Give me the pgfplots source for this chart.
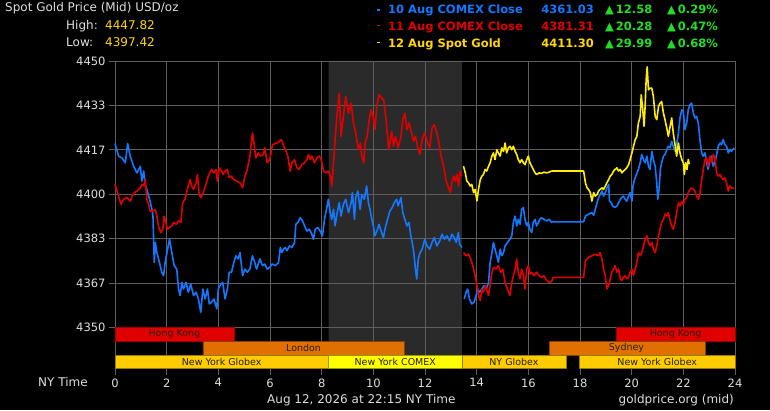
\documentclass[border=0pt]{standalone}
\usepackage{fontspec}
\setmainfont{DejaVu Sans}
\usepackage{pgfplots}
\pgfplotsset{compat=1.18}
\definecolor{cblue}{HTML}{1478FF}
\definecolor{cred}{HTML}{E00000}
\definecolor{cyel}{HTML}{FFEE00}
\definecolor{tyel}{HTML}{FFD700}
\definecolor{cgreen}{HTML}{22DD22}
\definecolor{lgray}{HTML}{DDDDDD}
\definecolor{gridgray}{HTML}{5E5E5E}
\definecolor{shade}{HTML}{2A2A2A}
\definecolor{hkred}{HTML}{E00000}
\definecolor{lonor}{HTML}{E07000}
\definecolor{nygold}{HTML}{FFCC00}
\definecolor{nyyel}{HTML}{FFFF00}
\definecolor{bartext}{HTML}{2A2000}
\begin{document}
\begin{tikzpicture}
\begin{axis}[
  at={(115pt,41pt)}, anchor=south west, scale only axis,
  width=620pt, height=308pt,
  xmin=0, xmax=24, ymin=4334.4, ymax=4450,
  set layers, clip=false,
  separate axis lines, axis line style={draw=none},
  xtick={0,2,...,24}, xticklabels={0,2,4,6,8,10,12,14,16,18,20,22,24},
  ytick={4350,4366.667,4383.333,4400,4416.667,4433.333,4450},
  yticklabels={4350,4367,4383,4400,4417,4433,4450},
  tick pos=left, tick align=outside, major tick length=6pt,
  tick style={draw=gridgray, line width=0.8pt},
  grid=major, major grid style={draw=gridgray, line width=0.8pt},
  tick label style={font=\fontsize{11.5}{13}\selectfont, text=lgray},
  line join=round,
]
% page background
\addplot[fill=black, draw=none, on layer=axis background] coordinates {(-4.4516,4319.02) (25.3548,4319.02) (25.3548,4472.89) (-4.4516,4472.89) (-4.4516,4319.02)};
% shaded COMEX session
\addplot[fill=shade, draw=none, on layer=axis background] coordinates {(8.27,4339.6) (13.43,4339.6) (13.43,4450) (8.27,4450) (8.27,4339.6)};
% session bars
\addplot[fill=hkred, draw=hkred!70!black, line width=0.6pt] coordinates {(0,4344.8) (4.6,4344.8) (4.6,4350) (0,4350) (0,4344.8)};
\addplot[fill=hkred, draw=hkred!70!black, line width=0.6pt] coordinates {(19.4,4344.8) (24,4344.8) (24,4350) (19.4,4350) (19.4,4344.8)};
\addplot[fill=lonor, draw=lonor!60!black, line width=0.6pt] coordinates {(3.4,4339.6) (11.2,4339.6) (11.2,4344.8) (3.4,4344.8) (3.4,4339.6)};
\addplot[fill=lonor, draw=lonor!60!black, line width=0.6pt] coordinates {(16.8,4339.6) (22.85,4339.6) (22.85,4344.8) (16.8,4344.8) (16.8,4339.6)};
\addplot[fill=nygold, draw=nygold!60!black, line width=0.6pt] coordinates {(0,4334.5) (8.27,4334.5) (8.27,4339.6) (0,4339.6) (0,4334.5)};
\addplot[fill=nyyel, draw=nyyel!60!black, line width=0.6pt] coordinates {(8.27,4334.5) (13.43,4334.5) (13.43,4339.6) (8.27,4339.6) (8.27,4334.5)};
\addplot[fill=nygold, draw=nygold!60!black, line width=0.6pt] coordinates {(13.43,4334.5) (17.45,4334.5) (17.45,4339.6) (13.43,4339.6) (13.43,4334.5)};
\addplot[fill=nygold, draw=nygold!60!black, line width=0.6pt] coordinates {(17.98,4334.5) (24,4334.5) (24,4339.6) (17.98,4339.6) (17.98,4334.5)};
\begin{scope}[every node/.style={font=\fontsize{9.5}{11}\selectfont, text=bartext}]
\node at (axis cs:2.3,4347.4) {Hong Kong};
\node at (axis cs:21.7,4347.4) {Hong Kong};
\node at (axis cs:7.3,4342.2) {London};
\node at (axis cs:19.8,4342.2) {Sydney};
\node at (axis cs:4.13,4337.05) {New York Globex};
\node at (axis cs:10.85,4337.05) {New York COMEX};
\node at (axis cs:15.44,4337.05) {NY Globex};
\node at (axis cs:20.99,4337.05) {New York Globex};
\end{scope}
% 10 Aug COMEX Close (blue)
\addplot[cblue, line width=1.6pt] coordinates {
(0.00,4419.0)(0.14,4414.3)(0.27,4413.6)(0.40,4411.8)(0.49,4419.0)(0.59,4414.3)(0.72,4410.5)(0.85,4408.0)(0.98,4410.5)(1.04,4404.9)(1.11,4408.7)(1.17,4403.7)(1.23,4401.8)(1.34,4398.1)(1.43,4394.3)(1.47,4391.8)(1.49,4384.4)(1.52,4374.4)(1.56,4381.9)(1.62,4378.1)(1.72,4374.4)(1.81,4370.7)(1.88,4369.4)(1.94,4374.4)(2.01,4378.1)(2.11,4383.1)(2.20,4378.1)(2.29,4373.2)(2.39,4371.9)(2.46,4364.4)(2.52,4362.0)(2.59,4366.9)(2.65,4364.4)(2.75,4366.9)(2.84,4363.2)(2.93,4366.3)(3.04,4362.0)(3.14,4363.2)(3.23,4360.7)(3.32,4355.7)(3.40,4364.4)(3.49,4360.7)(3.58,4364.4)(3.65,4358.8)(3.74,4359.5)(3.83,4360.7)(3.94,4357.0)(4.00,4364.4)(4.06,4365.7)(4.17,4366.9)(4.26,4360.7)(4.35,4364.4)(4.42,4370.7)(4.51,4370.7)(4.60,4374.4)(4.68,4376.9)(4.77,4375.7)(4.84,4378.1)(4.94,4369.4)(5.03,4371.9)(5.12,4370.7)(5.22,4371.9)(5.32,4376.9)(5.41,4374.4)(5.48,4371.9)(5.61,4375.7)(5.71,4373.2)(5.80,4373.8)(5.89,4371.9)(5.99,4372.5)
(6.08,4373.8)(6.21,4373.2)(6.33,4374.4)(6.40,4380.0)(6.46,4378.1)(6.53,4379.4)(6.59,4380.0)(6.66,4378.8)(6.75,4380.6)(6.85,4380.0)(6.95,4381.9)(7.00,4388.7)(7.08,4389.4)(7.17,4391.2)(7.26,4390.0)(7.34,4388.1)(7.43,4386.2)(7.52,4386.9)(7.62,4385.0)(7.68,4383.1)(7.75,4386.9)(7.85,4387.5)(7.94,4386.2)(8.03,4384.4)(8.11,4390.6)(8.20,4395.0)(8.26,4398.1)(8.33,4393.1)(8.39,4390.6)(8.46,4394.3)(8.52,4388.1)(8.59,4392.5)(8.68,4396.8)(8.75,4391.8)(8.84,4396.2)(8.93,4398.1)(9.04,4393.1)(9.14,4396.8)(9.19,4400.6)(9.27,4390.6)(9.32,4398.7)(9.40,4401.2)(9.49,4394.3)(9.55,4399.9)(9.65,4398.1)(9.74,4403.1)(9.81,4396.8)(9.87,4394.3)(9.94,4390.6)(10.00,4388.1)(10.06,4384.4)(10.14,4386.2)(10.22,4388.7)(10.32,4385.6)(10.39,4383.7)(10.45,4386.9)(10.55,4390.6)(10.64,4393.7)(10.73,4395.0)(10.81,4396.8)(10.90,4398.1)(10.96,4395.6)(11.07,4398.7)(11.14,4393.1)(11.22,4390.6)(11.30,4388.1)(11.38,4389.4)(11.45,4384.4)(11.53,4380.6)(11.58,4376.9)(11.63,4371.9)(11.68,4368.2)(11.74,4375.7)(11.81,4378.1)(11.89,4379.4)(11.99,4383.1)
(12.08,4380.6)(12.18,4379.4)(12.27,4381.9)(12.36,4383.7)(12.46,4380.6)(12.57,4382.5)(12.66,4385.0)(12.75,4383.1)(12.85,4384.4)(12.95,4382.5)(13.04,4385.0)(13.13,4383.7)(13.21,4381.9)(13.29,4385.6)(13.34,4381.3)(13.43,4380.0)
};
\addplot[cblue, line width=1.6pt] coordinates {
(13.52,4360.7)(13.59,4363.2)(13.65,4364.4)(13.72,4360.7)(13.81,4358.8)(13.90,4359.5)(13.98,4362.0)(14.03,4364.4)(14.11,4363.2)(14.20,4364.4)(14.29,4365.7)(14.37,4364.4)(14.46,4366.9)(14.52,4374.4)(14.59,4378.1)(14.65,4381.9)(14.71,4379.4)(14.78,4376.9)(14.84,4374.4)(14.91,4379.4)(14.97,4376.9)(15.04,4378.1)(15.10,4380.6)(15.19,4381.9)(15.29,4383.1)(15.36,4384.4)(15.42,4389.4)(15.49,4391.8)(15.55,4388.1)(15.61,4390.6)(15.68,4388.7)(15.74,4394.3)(15.81,4395.0)(15.87,4390.6)(15.94,4388.1)(16.00,4389.4)(16.06,4386.9)(16.13,4385.6)(16.19,4389.4)(16.26,4390.6)(16.32,4388.1)(16.39,4389.4)(16.45,4390.6)(16.51,4391.2)(16.60,4390.6)(16.71,4390.0)(16.81,4390.6)(16.90,4389.4)(16.96,4389.6)(18.14,4389.6)
(18.21,4391.8)(18.33,4392.5)(18.46,4393.1)(18.53,4392.1)(18.59,4394.3)(18.66,4396.8)(18.72,4398.7)(18.78,4399.9)(18.85,4401.2)(18.91,4399.3)(18.98,4400.6)(19.04,4402.4)(19.11,4403.7)(19.14,4397.4)(19.21,4396.8)(19.26,4395.6)(19.34,4395.0)(19.43,4395.6)(19.49,4396.8)(19.56,4398.1)(19.62,4398.7)(19.68,4399.3)(19.75,4398.1)(19.81,4397.4)(19.88,4399.3)(19.94,4400.6)(20.01,4397.4)(20.05,4403.1)(20.11,4405.5)(20.16,4406.8)(20.21,4408.0)(20.26,4409.3)(20.33,4411.8)(20.39,4414.9)(20.46,4413.0)(20.52,4411.8)(20.59,4414.3)(20.65,4410.5)(20.71,4409.3)(20.78,4416.1)(20.84,4413.0)(20.91,4410.5)(20.97,4404.3)(21.01,4398.1)(21.06,4401.8)(21.11,4409.3)(21.16,4411.8)(21.23,4414.3)(21.29,4414.9)(21.36,4416.7)(21.42,4418.0)(21.49,4417.4)(21.55,4419.9)(21.61,4418.0)(21.68,4416.1)(21.74,4418.6)(21.81,4423.0)(21.87,4428.6)(21.94,4431.7)(22.00,4431.1)(22.06,4424.2)(22.13,4426.7)(22.19,4431.7)(22.26,4433.6)(22.32,4434.2)(22.39,4430.4)(22.45,4428.6)(22.51,4429.2)(22.58,4426.7)(22.64,4420.5)(22.71,4415.5)(22.77,4414.3)(22.84,4415.5)(22.90,4411.8)(22.96,4409.3)(23.03,4413.0)(23.09,4414.3)(23.16,4410.5)(23.22,4411.8)(23.29,4414.9)(23.35,4418.0)(23.42,4419.2)(23.48,4418.6)(23.54,4420.5)(23.61,4418.6)(23.67,4418.0)(23.74,4415.5)(23.80,4416.7)(23.86,4416.1)(23.97,4417.4)
};
% 11 Aug COMEX Close (red)
\addplot[cred, line width=1.6pt] coordinates {
(0.00,4403.7)(0.14,4399.3)(0.23,4396.2)(0.33,4398.1)(0.46,4398.7)(0.59,4397.4)(0.66,4399.3)(0.75,4400.6)(0.85,4401.2)(0.91,4401.8)(0.98,4402.4)(1.04,4403.7)(1.11,4403.1)(1.17,4405.5)(1.23,4398.1)(1.30,4396.2)(1.36,4393.7)(1.47,4393.7)(1.56,4394.3)(1.62,4391.8)(1.68,4388.1)(1.77,4385.6)(1.85,4386.9)(1.90,4391.8)(1.95,4390.0)(2.03,4386.9)(2.11,4387.5)(2.20,4388.1)(2.26,4389.4)(2.37,4388.7)(2.46,4390.0)(2.55,4389.4)(2.62,4396.8)(2.71,4398.1)(2.80,4401.8)(2.91,4405.5)(2.97,4403.1)(3.04,4401.8)(3.14,4404.3)(3.19,4407.4)(3.25,4400.6)(3.32,4398.7)(3.42,4400.6)(3.52,4403.7)(3.61,4406.8)(3.74,4409.3)(3.83,4408.0)(3.91,4409.3)(3.96,4404.9)(4.04,4409.9)(4.13,4408.7)(4.19,4407.4)(4.26,4408.7)(4.35,4409.3)(4.42,4406.2)(4.51,4406.8)(4.60,4405.5)(4.71,4404.9)(4.84,4404.3)(4.94,4402.4)(5.03,4406.8)(5.12,4409.3)(5.22,4414.3)(5.32,4423.0)(5.38,4419.2)(5.45,4413.6)(5.54,4415.5)(5.63,4414.3)(5.74,4414.9)(5.80,4417.4)(5.89,4411.8)(5.99,4413.0)
(6.10,4418.6)(6.21,4419.0)(6.33,4419.5)(6.44,4420.5)(6.53,4418.0)(6.62,4416.1)(6.69,4414.3)(6.78,4408.7)(6.85,4411.8)(6.95,4413.0)(7.04,4409.9)(7.13,4409.3)(7.23,4411.1)(7.34,4411.8)(7.43,4413.0)(7.49,4414.9)(7.56,4413.0)(7.62,4414.3)(7.72,4411.8)(7.81,4413.6)(7.90,4414.3)(7.98,4413.0)(8.07,4408.7)(8.16,4408.0)(8.26,4408.7)(8.34,4406.8)(8.39,4403.1)(8.46,4411.8)(8.52,4420.5)(8.59,4429.2)(8.68,4437.9)(8.75,4421.7)(8.84,4429.2)(8.93,4436.7)(9.04,4430.4)(9.14,4434.2)(9.23,4426.7)(9.32,4423.0)(9.42,4416.7)(9.50,4419.2)(9.55,4414.3)(9.63,4411.8)(9.68,4419.2)(9.76,4421.7)(9.83,4427.3)(9.91,4431.7)(9.99,4429.2)(10.06,4424.2)(10.14,4433.6)(10.22,4437.3)(10.32,4436.1)(10.40,4435.4)(10.48,4429.2)(10.55,4421.7)(10.60,4416.7)(10.71,4423.6)(10.78,4418.0)(10.86,4421.7)(10.96,4417.4)(11.07,4421.7)(11.14,4428.0)(11.22,4430.4)(11.30,4424.2)(11.38,4426.7)(11.48,4423.0)(11.56,4419.9)(11.63,4421.7)(11.71,4418.0)(11.80,4414.9)(11.89,4420.5)(11.99,4423.0)
(12.10,4419.2)(12.18,4417.4)(12.27,4424.8)(12.36,4426.1)(12.46,4423.0)(12.54,4419.2)(12.62,4414.3)(12.72,4410.5)(12.82,4404.9)(12.91,4402.4)(12.98,4400.6)(13.04,4404.3)(13.11,4406.8)(13.17,4404.9)(13.23,4407.4)(13.30,4403.1)(13.36,4408.7)(13.43,4406.8)
};
\addplot[cred, line width=1.6pt] coordinates {
(13.49,4378.1)(13.59,4376.9)(13.68,4377.5)(13.77,4375.7)(13.85,4373.2)(13.94,4369.4)(14.01,4365.7)(14.07,4362.0)(14.14,4360.1)(14.20,4364.4)(14.26,4363.2)(14.33,4365.7)(14.39,4364.4)(14.46,4362.0)(14.52,4365.7)(14.59,4370.7)(14.65,4372.5)(14.75,4371.9)(14.84,4373.2)(14.93,4370.7)(15.01,4371.9)(15.10,4366.9)(15.19,4364.4)(15.29,4362.0)(15.36,4366.9)(15.42,4369.4)(15.49,4371.9)(15.55,4375.7)(15.61,4370.7)(15.68,4368.2)(15.74,4371.9)(15.81,4369.4)(15.87,4364.4)(15.94,4371.9)(16.00,4373.2)(16.06,4370.0)(16.13,4370.7)(16.22,4369.4)(16.32,4370.7)(16.42,4369.4)(16.51,4368.8)(16.60,4369.4)(16.71,4367.6)(16.81,4366.9)(16.90,4367.2)(16.96,4368.8)(18.14,4368.8)
(18.21,4375.0)(18.33,4376.3)(18.46,4376.9)(18.59,4377.5)(18.72,4376.9)(18.78,4378.1)(18.85,4375.7)(18.91,4371.9)(18.98,4369.4)(19.04,4364.4)(19.11,4365.7)(19.17,4368.2)(19.23,4370.7)(19.30,4371.9)(19.36,4373.2)(19.43,4370.7)(19.49,4371.9)(19.56,4368.2)(19.62,4367.6)(19.68,4368.8)(19.75,4369.4)(19.81,4368.2)(19.88,4368.8)(19.94,4370.7)(20.01,4371.9)(20.07,4369.4)(20.14,4371.9)(20.20,4374.4)(20.26,4378.1)(20.33,4376.9)(20.39,4378.1)(20.46,4380.6)(20.52,4383.1)(20.59,4384.4)(20.65,4381.9)(20.71,4380.6)(20.78,4381.9)(20.84,4379.4)(20.91,4378.1)(20.97,4380.6)(21.04,4384.4)(21.10,4386.9)(21.16,4389.4)(21.23,4390.6)(21.29,4392.5)(21.36,4391.8)(21.42,4393.1)(21.49,4390.0)(21.55,4388.1)(21.61,4386.9)(21.68,4389.4)(21.74,4393.1)(21.81,4396.8)(21.87,4395.6)(21.94,4397.4)(22.00,4396.2)(22.06,4398.1)(22.13,4398.7)(22.19,4400.6)(22.26,4401.8)(22.32,4402.4)(22.39,4401.8)(22.45,4401.2)(22.51,4399.3)(22.58,4398.1)(22.64,4399.9)(22.71,4405.5)(22.77,4409.3)(22.84,4413.0)(22.90,4413.6)(22.96,4410.5)(23.03,4414.3)(23.09,4411.8)(23.16,4414.9)(23.22,4413.6)(23.29,4408.0)(23.35,4406.8)(23.42,4407.4)(23.48,4406.2)(23.54,4405.5)(23.61,4406.2)(23.67,4404.3)(23.74,4401.2)(23.80,4403.1)(23.86,4402.4)(23.97,4402.1)
};
% 12 Aug Spot Gold (yellow)
\addplot[cyel, line width=1.6pt] coordinates {
(13.49,4410.5)(13.56,4408.0)(13.62,4404.9)(13.68,4404.3)(13.75,4403.1)(13.81,4403.7)(13.88,4400.6)(13.94,4401.8)(14.01,4397.5)(14.07,4401.8)(14.14,4405.5)(14.20,4406.8)(14.26,4407.4)(14.33,4409.3)(14.39,4408.7)(14.46,4410.5)(14.52,4411.8)(14.59,4414.3)(14.65,4415.5)(14.71,4413.0)(14.78,4416.7)(14.84,4415.5)(14.91,4414.3)(14.97,4417.4)(15.04,4416.1)(15.10,4419.2)(15.16,4415.5)(15.23,4417.4)(15.29,4418.0)(15.36,4416.7)(15.42,4418.0)(15.49,4416.1)(15.55,4414.9)(15.61,4413.0)(15.68,4411.8)(15.74,4413.0)(15.81,4411.8)(15.87,4411.1)(15.94,4413.0)(16.00,4414.3)(16.06,4411.8)(16.13,4410.5)(16.19,4409.3)(16.26,4408.0)(16.32,4407.4)(16.42,4408.0)(16.51,4407.8)(16.60,4408.3)(16.71,4408.0)(16.81,4408.3)(16.90,4408.7)(16.96,4408.7)(18.14,4408.7)
(18.21,4404.3)(18.27,4402.4)(18.33,4401.8)(18.40,4400.6)(18.46,4397.4)(18.53,4400.6)(18.59,4399.3)(18.66,4399.9)(18.72,4401.2)(18.78,4401.8)(18.85,4402.4)(18.91,4401.8)(18.98,4403.1)(19.04,4404.3)(19.11,4405.5)(19.17,4406.8)(19.23,4407.4)(19.30,4408.7)(19.36,4409.3)(19.43,4409.9)(19.49,4408.7)(19.56,4409.3)(19.62,4408.0)(19.68,4408.7)(19.75,4409.3)(19.81,4409.9)(19.88,4411.1)(19.94,4413.0)(20.01,4415.5)(20.07,4418.0)(20.14,4420.5)(20.20,4421.7)(20.26,4426.7)(20.33,4429.2)(20.37,4437.3)(20.43,4431.7)(20.48,4425.5)(20.52,4432.9)(20.56,4442.9)(20.60,4447.8)(20.65,4439.2)(20.71,4439.8)(20.78,4439.8)(20.84,4436.7)(20.91,4429.2)(20.97,4428.0)(21.04,4432.9)(21.10,4434.2)(21.16,4434.8)(21.23,4430.4)(21.29,4428.0)(21.36,4424.8)(21.42,4421.7)(21.49,4425.5)(21.55,4428.6)(21.61,4423.0)(21.68,4418.6)(21.74,4414.3)(21.81,4419.2)(21.87,4415.5)(21.94,4413.0)(22.00,4411.8)(22.04,4407.4)(22.09,4411.8)(22.14,4409.3)(22.19,4413.0)(22.23,4411.3)
};
\end{axis}
% header
\begin{scope}[every node/.style={inner sep=0pt, font=\fontsize{12}{14}\selectfont}]
\node[anchor=base west, text=lgray] at (5pt,398pt) {Spot Gold Price (Mid) USD/oz};
\node[anchor=base west, text=lgray] at (66pt,380.5pt) {High:};
\node[anchor=base west, text=tyel] at (105pt,380.5pt) {4447.82};
\node[anchor=base west, text=lgray] at (66pt,363.3pt) {Low:};
\node[anchor=base west, text=tyel] at (105pt,363.3pt) {4397.42};
\node[anchor=base west, text=lgray] at (38pt,23.3pt) {NY Time};
\node[anchor=base west, text=lgray] at (267pt,6.5pt) {Aug 12, 2026 at 22:15 NY Time};
\node[anchor=base east, text=lgray] at (734pt,6.5pt) {goldprice.org (mid)};
\end{scope}
\draw[cblue, line width=1.2pt] (376.5pt,400pt) -- (380pt,400pt);
\draw[cred, line width=1.2pt] (376.5pt,384.3pt) -- (380pt,384.3pt);
\draw[tyel, line width=1.2pt] (376.5pt,367.3pt) -- (380pt,367.3pt);
\begin{scope}[every node/.style={inner sep=0pt, font=\bfseries\fontsize{11.5}{13}\selectfont}]
\node[anchor=base west, text=cblue] at (388pt,396pt) {10 Aug COMEX Close};
\node[anchor=base east, text=cblue] at (594pt,396pt) {4361.03};
\node[anchor=base west, text=cgreen] at (605pt,396pt) {▲\,12.58};
\node[anchor=base west, text=cgreen] at (667pt,396pt) {▲\,0.29\%};
\node[anchor=base west, text=cred] at (388pt,379.3pt) {11 Aug COMEX Close};
\node[anchor=base east, text=cred] at (594pt,379.3pt) {4381.31};
\node[anchor=base west, text=cgreen] at (605pt,379.3pt) {▲\,20.28};
\node[anchor=base west, text=cgreen] at (667pt,379.3pt) {▲\,0.47\%};
\node[anchor=base west, text=tyel] at (388pt,362.3pt) {12 Aug Spot Gold};
\node[anchor=base east, text=tyel] at (594pt,362.3pt) {4411.30};
\node[anchor=base west, text=cgreen] at (605pt,362.3pt) {▲\,29.99};
\node[anchor=base west, text=cgreen] at (667pt,362.3pt) {▲\,0.68\%};
\end{scope}
\path[use as bounding box] (0pt,0pt) rectangle (770pt,410pt);
\end{tikzpicture}
\end{document}
